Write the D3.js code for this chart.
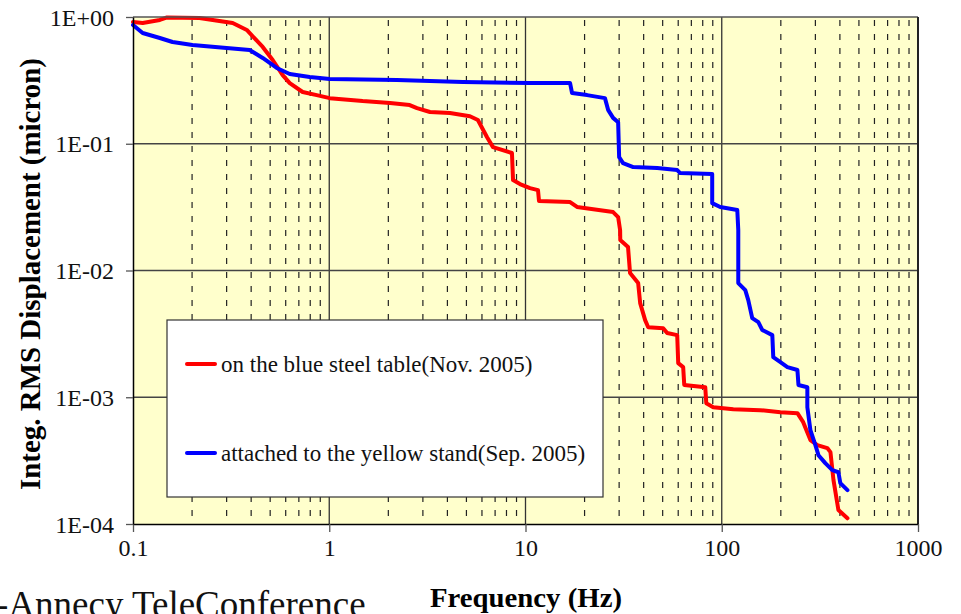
<!DOCTYPE html>
<html>
<head>
<meta charset="utf-8">
<script src="https://cdn.jsdelivr.net/npm/d3@7"></script>
<style>
  body { margin: 0; background: #fff; overflow: hidden; }
  text { font-family: "Liberation Serif", "Times New Roman", serif; }
</style>
</head>
<body>
<svg id="chart" width="961" height="614"></svg>
<script>
// values (frequency in Hz, integrated RMS displacement in micron)
let redFreq = [0.1, 0.112, 0.137, 0.148, 0.218, 0.322, 0.38, 0.458, 0.515, 0.579, 0.629, 0.732, 0.863, 1.006,
    1.48, 2.04, 2.57, 2.8, 3.26, 4.12, 5.21, 5.72, 6.36, 6.83, 8.53, 8.64, 9.37, 10.54, 11.58, 11.72,
    16.87, 18.31, 27.95, 29.65, 30.35, 30.4, 33.3, 34.1, 37.5, 38.4, 40.7, 42.2, 50.3, 52.7, 59.3, 60.0,
    63.6, 64.4, 82.4, 83.4, 90.5, 114.5, 157, 199, 243, 260, 283, 307, 345, 358, 371, 393, 437];
let redDisp = [0.913, 0.897, 0.947, 0.99, 0.982, 0.897, 0.79, 0.58, 0.458, 0.348, 0.301, 0.256, 0.242, 0.229,
    0.217, 0.21, 0.202, 0.191, 0.178, 0.175, 0.165, 0.154, 0.113, 0.0941, 0.0845, 0.0517, 0.0481, 0.0447, 0.0431, 0.0353,
    0.0347, 0.0317, 0.0289, 0.0264, 0.0208, 0.0174, 0.0153, 0.00954, 0.00796, 0.00553, 0.00406, 0.00357, 0.00351, 0.00321, 0.00309, 0.00186,
    0.00173, 0.00125, 0.0012, 0.000898, 0.000835, 0.000805, 0.000791, 0.000763, 0.000749, 0.000636, 0.000459, 0.000419, 0.000397, 0.000369, 0.000222, 0.000129, 0.000111];

let blueFreq = [0.1, 0.112, 0.137, 0.159, 0.201, 0.3, 0.393, 0.458, 0.54, 0.629, 0.795, 1.006, 2.21, 4.8, 10.54,
    16.87, 17.27, 20.6, 25.4, 26.4, 27.95, 29.65, 30.0, 31.4, 35.4, 46.9, 59.3, 61.4, 89.4, 89.4, 98.2, 120,
    121.4, 121.4, 131.8, 136.5, 143, 153.6, 161, 181, 183, 199, 216, 243, 246, 273, 273, 283, 300, 311, 337, 366, 393, 402, 437];
let blueDisp = [0.865, 0.748, 0.683, 0.635, 0.601, 0.569, 0.549, 0.475, 0.396, 0.355, 0.336, 0.324, 0.318, 0.307, 0.301,
    0.301, 0.251, 0.242, 0.229, 0.184, 0.16, 0.148, 0.0785, 0.0704, 0.0655, 0.0643, 0.062, 0.0587, 0.0577, 0.034, 0.0317, 0.03,
    0.0208, 0.00796, 0.007, 0.00584, 0.00421, 0.00391, 0.00339, 0.00309, 0.00207, 0.00189, 0.00173, 0.00164, 0.00125, 0.0012, 0.000835, 0.00055, 0.000419, 0.000349, 0.000302, 0.000266, 0.000256, 0.00021, 0.000185];

let xTicks = [0.1, 1, 10, 100, 1000];
let xTickLabels = ['0.1', '1', '10', '100', '1000'];
let yTicks = [1, 0.1, 0.01, 0.001, 0.0001];
let yTickLabels = ['1E+00', '1E-01', '1E-02', '1E-03', '1E-04'];

let seriesNames = ['on the blue steel table(Nov. 2005)', 'attached to the yellow stand(Sep. 2005)'];
let seriesColors = ['#ff0000', '#0000ff'];

let serif = '"Liberation Serif", "Times New Roman", serif';

let margin = {top: 17, right: 43, bottom: 90, left: 133};
let width = 961 - margin.left - margin.right;
let height = 614 - margin.top - margin.bottom;

let svg = d3.select('#chart');
let g = svg.append('g')
    .attr('transform', 'translate(' + margin.left + ',' + margin.top + ')');

let xScale = d3.scaleLog().domain([0.1, 1000]).range([0, width]);
let yScale = d3.scaleLog().domain([0.0001, 1]).range([height, 0]);

// plot background
g.append('rect')
    .attr('width', width)
    .attr('height', height)
    .style('fill', '#ffffcc');

// minor dashed verticals (2..9 in each decade)
let minor = [];
[0.1, 1, 10, 100].forEach(function (d) {
    for (let k = 2; k <= 9; k++) minor.push(d * k);
});
g.selectAll('.minor')
    .data(minor)
    .enter()
    .append('line')
    .attr('class', 'minor')
    .attr('x1', function (d) { return xScale(d); })
    .attr('x2', function (d) { return xScale(d); })
    .attr('y1', 3)
    .attr('y2', height)
    .style('stroke', '#222')
    .style('stroke-width', 1.2)
    .style('stroke-dasharray', '6,8');

// major grid
g.selectAll('.vmajor')
    .data([1, 10, 100])
    .enter()
    .append('line')
    .attr('x1', function (d) { return xScale(d); })
    .attr('x2', function (d) { return xScale(d); })
    .attr('y1', 0)
    .attr('y2', height)
    .style('stroke', '#333')
    .style('stroke-width', 1.3);

g.selectAll('.hmajor')
    .data([0.1, 0.01, 0.001])
    .enter()
    .append('line')
    .attr('x1', 0)
    .attr('x2', width)
    .attr('y1', function (d) { return yScale(d); })
    .attr('y2', function (d) { return yScale(d); })
    .style('stroke', '#444')
    .style('stroke-width', 1.5);

// legend box (drawn over the grid, under the curves)
let legend = g.append('g')
    .attr('transform', 'translate(' + (167 - margin.left) + ',' + (320 - margin.top) + ')');
legend.append('rect')
    .attr('width', 436)
    .attr('height', 177)
    .style('fill', '#fff')
    .style('stroke', '#333')
    .style('stroke-width', 1.2);

seriesNames.forEach(function (name, i) {
    let yy = 44 + i * 89;
    legend.append('line')
        .attr('x1', 20)
        .attr('x2', 48)
        .attr('y1', yy)
        .attr('y2', yy)
        .style('stroke', seriesColors[i])
        .style('stroke-width', 4)
        .style('stroke-linecap', 'round');
    legend.append('text')
        .attr('x', 54)
        .attr('y', yy + 8)
        .style('font-family', serif)
        .style('font-size', '23px')
        .style('fill', '#111')
        .text(name);
});

// curves
let line = d3.line()
    .x(function (d) { return xScale(d[0]); })
    .y(function (d) { return yScale(d[1]); });

let redData = redFreq.map(function (f, i) { return [f, redDisp[i]]; });
let blueData = blueFreq.map(function (f, i) { return [f, blueDisp[i]]; });

[redData, blueData].forEach(function (data, i) {
    g.append('path')
        .datum(data)
        .attr('d', line)
        .style('fill', 'none')
        .style('stroke', seriesColors[i])
        .style('stroke-width', 4)
        .style('stroke-linejoin', 'round')
        .style('stroke-linecap', 'round');
});

// plot frame
g.append('line').attr('x1', 0).attr('x2', width).attr('y1', 0).attr('y2', 0)
    .style('stroke', '#555').style('stroke-width', 1.5);
g.append('line').attr('x1', width).attr('x2', width).attr('y1', 0).attr('y2', height)
    .style('stroke', '#222').style('stroke-width', 2);

// axes
let xAxis = d3.axisBottom(xScale)
    .tickValues(xTicks)
    .tickFormat(function (d, i) { return xTickLabels[i]; })
    .tickSize(8)
    .tickSizeOuter(0);
let xg = g.append('g')
    .attr('transform', 'translate(0,' + height + ')')
    .call(xAxis)
    .attr('font-family', serif);
xg.select('.domain').style('stroke', '#000').style('stroke-width', 1.5);
xg.selectAll('.tick line').style('stroke', '#555').style('stroke-width', 1.3);
xg.selectAll('.tick text')
    .attr('y', 32)
    .attr('dy', 0)
    .style('font-family', serif)
    .style('font-size', '24px')
    .style('fill', '#111');

let yAxis = d3.axisLeft(yScale)
    .tickValues(yTicks)
    .tickFormat(function (d, i) { return yTickLabels[i]; })
    .tickSize(7)
    .tickSizeOuter(0);
let yg = g.append('g').call(yAxis).attr('font-family', serif);
yg.select('.domain').style('stroke', '#000').style('stroke-width', 1.5);
yg.selectAll('.tick line').style('stroke', '#555').style('stroke-width', 1.3);
yg.selectAll('.tick text')
    .attr('x', -19)
    .attr('dy', '0.34em')
    .style('font-family', serif)
    .style('font-size', '24px')
    .style('fill', '#111');

// axis titles
svg.append('text')
    .attr('x', 526)
    .attr('y', 607)
    .attr('text-anchor', 'middle')
    .style('font-family', serif)
    .style('font-size', '28px')
    .style('font-weight', 'bold')
    .attr('textLength', 192)
    .attr('lengthAdjust', 'spacingAndGlyphs')
    .text('Frequency (Hz)');

svg.append('text')
    .attr('transform', 'translate(40,274) rotate(-90)')
    .attr('text-anchor', 'middle')
    .style('font-family', serif)
    .style('font-size', '29px')
    .style('font-weight', 'bold')
    .attr('textLength', 432)
    .attr('lengthAdjust', 'spacingAndGlyphs')
    .text('Integ. RMS Displacement (micron)');

// slide footer text, cut by the page edge as in the picture
svg.append('text')
    .attr('x', -4)
    .attr('y', 617)
    .style('font-family', serif)
    .style('font-size', '37px')
    .style('fill', '#111')
    .text('-Annecy TeleConference');
</script>
</body>
</html>
